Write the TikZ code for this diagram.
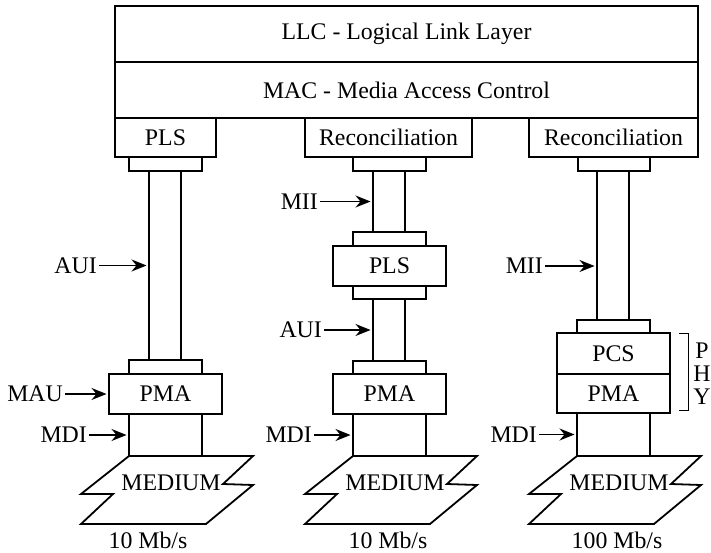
\documentclass[tikz,border=0pt]{standalone}
\usepackage{fontspec}
\setmainfont{Liberation Serif}
\usetikzlibrary{arrows.meta,calc}
\begin{document}
\begin{tikzpicture}[x=1pt,y=-1pt,
  box/.style={draw,line width=1.8pt,inner sep=0pt,outer sep=0pt,font=\fontsize{23.8}{28}\selectfont},
  lbl/.style={inner sep=2pt,font=\fontsize{23.8}{28}\selectfont},
  arr/.style={line width=1.2pt,-{Stealth[length=15pt,width=12pt,inset=5pt]},shorten >=2.5pt},
  medium/.style={draw,line width=1.8pt,line join=miter}]
\useasboundingbox (0,0) rectangle (711,553);
% top layers
\node[box,minimum width=583pt,minimum height=56pt] (llc) at (406.5,34) {LLC - Logical Link Layer};
\node[box,minimum width=583pt,minimum height=56pt] (mac) at (406.5,90) {MAC - Media Access Control};
% column 1
\node[box,minimum width=101pt,minimum height=39pt] (pls1) at (165.5,137.5) {PLS};
\node[box,minimum width=73pt,minimum height=14pt] (c1a) at (165.5,164) {};
\node[box,minimum width=32pt,minimum height=189pt] (cable1) at (165,265.5) {};
\node[box,minimum width=73pt,minimum height=14pt] (c1b) at (165.5,367) {};
\node[box,minimum width=113pt,minimum height=40pt] (pma1) at (165.5,394) {PMA};
\node[box,minimum width=73pt,minimum height=42pt] (mdi1) at (165.5,435) {};
% column 2
\node[box,minimum width=167pt,minimum height=39pt] (rec2) at (388.5,137.5) {Reconciliation};
\node[box,minimum width=73pt,minimum height=14pt] (c2a) at (389.5,164) {};
\node[box,minimum width=32pt,minimum height=61pt] (cable2a) at (389,201.5) {};
\node[box,minimum width=73pt,minimum height=14pt] (c2b) at (389.5,239) {};
\node[box,minimum width=113pt,minimum height=40pt] (pls2) at (389.5,266) {PLS};
\node[box,minimum width=73pt,minimum height=13pt] (c2c) at (389.5,292.5) {};
\node[box,minimum width=32pt,minimum height=62pt] (cable2b) at (389,330) {};
\node[box,minimum width=73pt,minimum height=13pt] (c2d) at (389.5,367.5) {};
\node[box,minimum width=113pt,minimum height=40pt] (pma2) at (389.5,394) {PMA};
\node[box,minimum width=73pt,minimum height=42pt] (mdi2) at (389.5,435) {};
% column 3
\node[box,minimum width=169pt,minimum height=39pt] (rec3) at (613.5,137.5) {Reconciliation};
\node[box,minimum width=72pt,minimum height=14pt] (c3a) at (614,164) {};
\node[box,minimum width=32pt,minimum height=149pt] (cable3) at (613,245.5) {};
\node[box,minimum width=73pt,minimum height=13pt] (c3b) at (613.5,326.5) {};
\node[box,minimum width=113pt,minimum height=41pt] (pcs3) at (613.5,353.5) {PCS};
\node[box,minimum width=113pt,minimum height=39pt] (pma3) at (613.5,393.5) {PMA};
\node[box,minimum width=73pt,minimum height=43pt] (mdi3) at (613.5,434.5) {};
% media
\foreach \m in {mdi1,mdi2,mdi3}{
  \draw[medium] (\m.south west) -- ++(124,0) -- ++(-30,28) -- ++(30,1) -- ++(-47,39)
     -- ++(-125,0) -- ++(32,-30) -- ++(-32,0) -- cycle;
  \node[lbl] at ($(\m.south west)+(42,27)$) {MEDIUM};
}
% rates
\node[lbl] (r1) at (148,540) {10 Mb/s};
\node[lbl] (r2) at (388,540) {10 Mb/s};
\node[lbl] (r3) at (617,540) {100 Mb/s};
% labels and arrows
\node[lbl,anchor=east] (aui1) at (99,265.5) {AUI};
\draw[arr] (aui1.east) -- (cable1.west);
\node[lbl,anchor=east] (mau1) at (65,394) {MAU};
\draw[arr] (mau1.east) -- (pma1.west);
\node[lbl,anchor=east] (mdil1) at (89,435) {MDI};
\draw[arr] (mdil1.east) -- (mdi1.west);
\node[lbl,anchor=east] (mii2) at (320,201.5) {MII};
\draw[arr] (mii2.east) -- (cable2a.west);
\node[lbl,anchor=east] (aui2) at (324,330) {AUI};
\draw[arr] (aui2.east) -- (cable2b.west);
\node[lbl,anchor=east] (mdil2) at (314,435) {MDI};
\draw[arr] (mdil2.east) -- (mdi2.west);
\node[lbl,anchor=east] (mii3) at (545,266) {MII};
\draw[arr] (mii3.east) -- (mii3.east -| cable3.west);
\node[lbl,anchor=east] (mdil3) at (539,434.5) {MDI};
\draw[arr] (mdil3.east) -- (mdi3.west);
% PHY bracket
\coordinate (bt) at (679,333);
\coordinate (bb) at (679,410);
\draw[line width=1pt] (bt) -- ++(9,0) -- ($(bb)+(9,0)$) -- (bb);
\node[lbl,inner sep=0pt,text height=15pt,text depth=0pt] (phyp) at (702,351) {P};
\node[lbl,inner sep=0pt,text height=15pt,text depth=0pt] (phyh) at (702,374) {H};
\node[lbl,inner sep=0pt,text height=15pt,text depth=0pt] (phyy) at (702,397) {Y};
\end{tikzpicture}
\end{document}
